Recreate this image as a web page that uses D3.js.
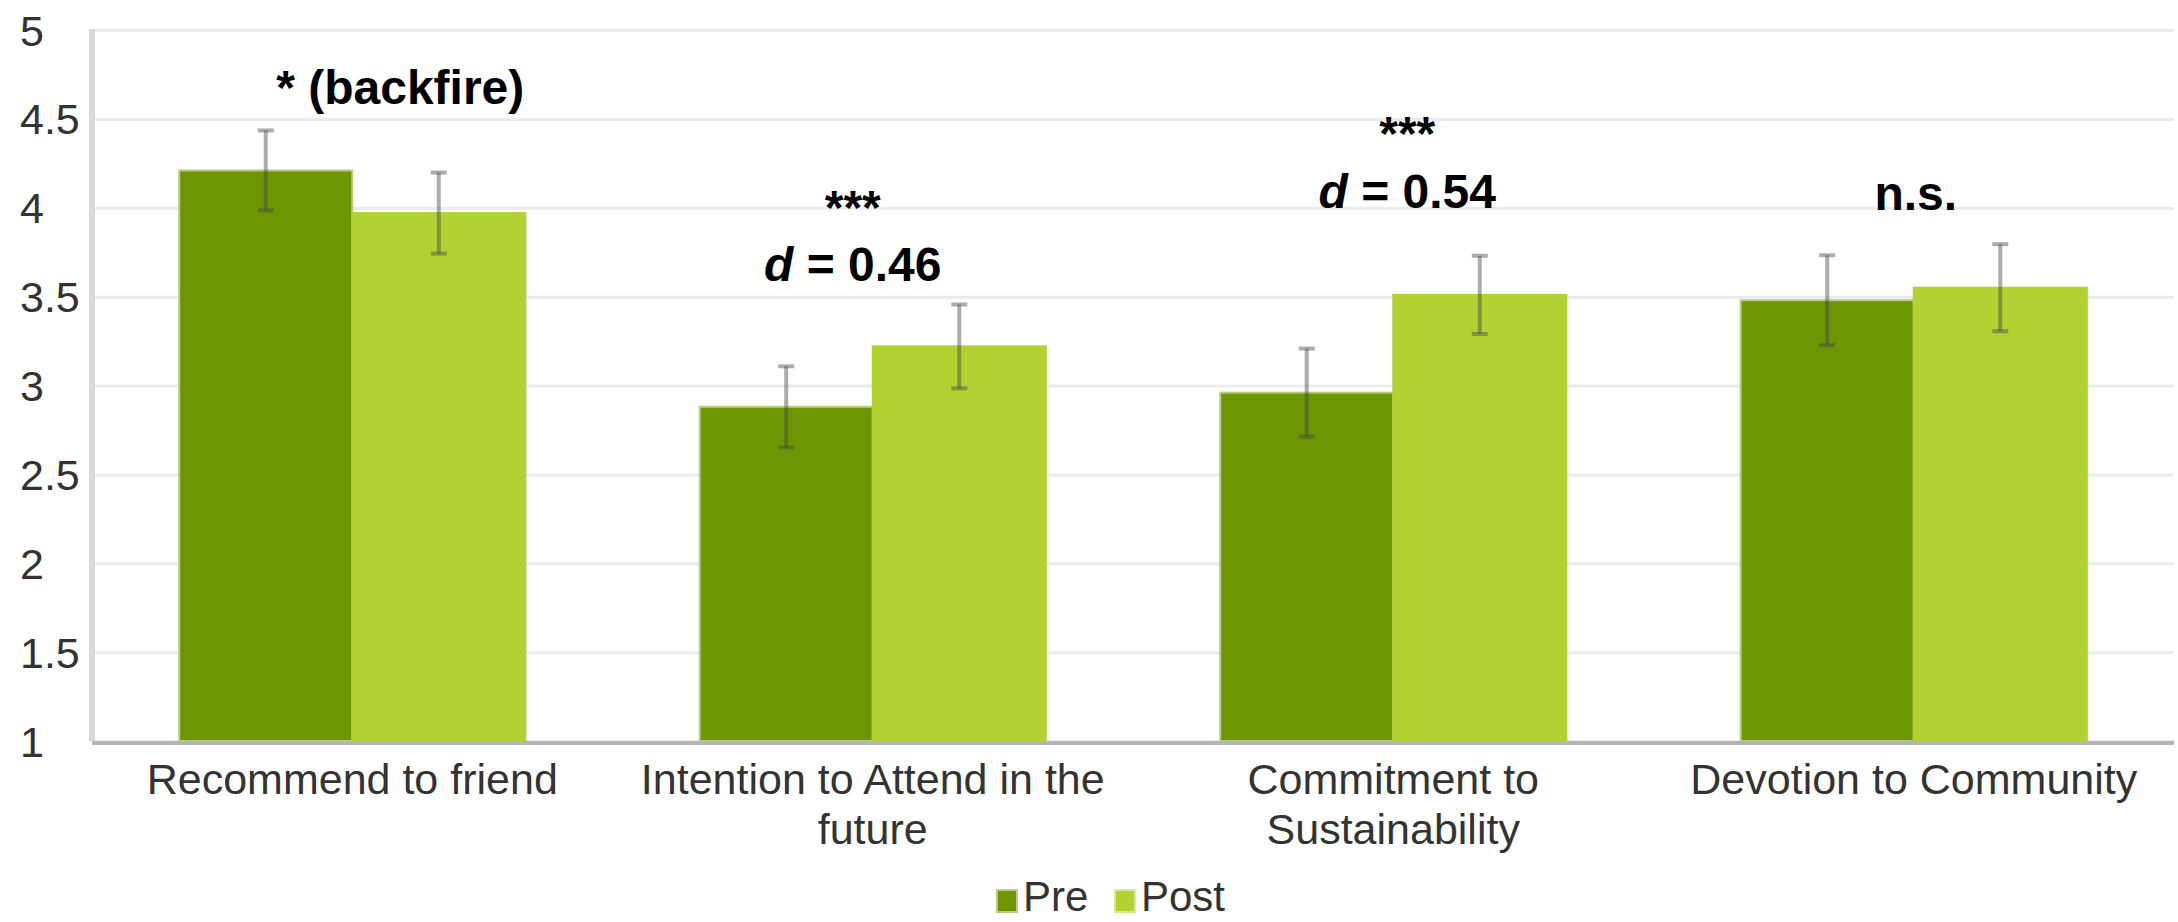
<!DOCTYPE html>
<html>
<head>
<meta charset="utf-8">
<script src="https://cdn.jsdelivr.net/npm/d3@7"></script>
<style>
  body { margin: 0; background: #fff; }
  svg { display: block; font-family: "Liberation Sans", Arial, sans-serif; }
</style>
</head>
<body>
<div id="chart"></div>
<script>
// chart values
const categories = [
    ["Recommend to friend"],
    ["Intention to Attend in the", "future"],
    ["Commitment to", "Sustainability"],
    ["Devotion to Community"]
];
const seriesNames = ["Pre", "Post"];
const preValues = [4.21, 2.88, 2.96, 3.48];
const postValues = [3.97, 3.22, 3.51, 3.55];
const preErrors = [0.225, 0.228, 0.248, 0.253];
const postErrors = [0.228, 0.236, 0.22, 0.245];
const yTicks = [1, 1.5, 2, 2.5, 3, 3.5, 4, 4.5, 5];
const sigLabels = ["* (backfire)", "***", "***", "n.s."];
const effectSizes = [null, "0.46", "0.54", null];

const width = 2178, height = 922;
const margin = {top: 30, right: 4, bottom: 181, left: 92};

const colors = {Pre: "#6e9602", Post: "#b2d232"};
const edge = {Pre: "#b9cc86", Post: "#b2d232"};

let svg = d3.select("#chart").append("svg")
    .attr("width", width)
    .attr("height", height);

let catKeys = categories.map(c => c.join(" "));

let x0 = d3.scaleBand()
    .domain(catKeys)
    .range([margin.left, width - margin.right])
    .paddingInner(0.335)
    .paddingOuter(0.1675);

let x1 = d3.scaleBand()
    .domain(seriesNames)
    .range([0, x0.bandwidth()]);

let y = d3.scaleLinear()
    .domain([1, 5])
    .range([height - margin.bottom, margin.top]);

// gridlines
svg.append("g")
    .attr("transform", "translate(" + margin.left + ",0)")
    .call(d3.axisLeft(y).tickValues(yTicks).tickSize(-(width - margin.left - margin.right)).tickFormat(""))
    .call(g => g.select(".domain").remove())
    .call(g => g.selectAll(".tick line").attr("stroke", "#ebebeb").attr("stroke-width", 3));

// y tick labels
svg.append("g")
    .attr("transform", "translate(" + margin.left + ",0)")
    .call(d3.axisLeft(y).tickValues(yTicks).tickSize(0).tickFormat(d => d))
    .call(g => g.select(".domain").remove())
    .call(g => g.selectAll(".tick text")
        .attr("x", -72)
        .attr("dy", "0.35em")
        .attr("text-anchor", "start")
        .style("font-size", "43px")
        .style("font-family", "Liberation Sans, Arial, sans-serif")
        .style("fill", "#333"));

// left axis line
svg.append("line")
    .attr("x1", margin.left).attr("x2", margin.left)
    .attr("y1", y(5) - 1).attr("y2", y(1))
    .attr("stroke", "#d9d9d9")
    .attr("stroke-width", 6);

// bars
let rows = catKeys.map((k, i) => ({
    key: k,
    bars: [
        {s: "Pre", v: preValues[i], e: preErrors[i]},
        {s: "Post", v: postValues[i], e: postErrors[i]}
    ]
}));

let groups = svg.selectAll(".grp")
    .data(rows)
    .enter()
    .append("g")
    .attr("class", "grp")
    .attr("transform", d => "translate(" + x0(d.key) + ",0)");

groups.selectAll("rect")
    .data(d => d.bars)
    .enter()
    .append("rect")
    .attr("x", d => x1(d.s))
    .attr("y", d => y(d.v))
    .attr("width", x1.bandwidth())
    .attr("height", d => y(1) - y(d.v))
    .attr("fill", d => colors[d.s])
    .attr("stroke", d => edge[d.s])
    .attr("stroke-width", 2);

// x axis line
svg.append("line")
    .attr("x1", margin.left).attr("x2", width - margin.right)
    .attr("y1", y(1) + 2).attr("y2", y(1) + 2)
    .attr("stroke", "#b4b4b4")
    .attr("stroke-width", 4);

// error bars
let errs = groups.selectAll(".err")
    .data(d => d.bars)
    .enter()
    .append("g")
    .attr("class", "err")
    .attr("stroke", "rgba(70,70,70,0.45)")
    .attr("stroke-width", 4);

errs.append("line")
    .attr("x1", d => x1(d.s) + x1.bandwidth() / 2)
    .attr("x2", d => x1(d.s) + x1.bandwidth() / 2)
    .attr("y1", d => y(d.v + d.e))
    .attr("y2", d => y(d.v - d.e));

errs.selectAll(".cap")
    .data(d => [d.v + d.e, d.v - d.e].map(v => ({s: d.s, v: v})))
    .enter()
    .append("line")
    .attr("x1", d => x1(d.s) + x1.bandwidth() / 2 - 8)
    .attr("x2", d => x1(d.s) + x1.bandwidth() / 2 + 8)
    .attr("y1", d => y(d.v))
    .attr("y2", d => y(d.v));

// category labels
groups.append("text")
    .attr("x", x0.bandwidth() / 2)
    .attr("y", y(1) + 53)
    .attr("text-anchor", "middle")
    .style("font-size", "43px")
    .style("fill", "#333")
    .selectAll("tspan")
    .data((d, i) => categories[i])
    .enter()
    .append("tspan")
    .attr("x", x0.bandwidth() / 2)
    .attr("dy", (d, i) => i === 0 ? 0 : 50)
    .text(d => d);

// significance annotations (nudged like the hand placed text boxes)
const sigPlace = [
    {dx: 48, sigY: 4.585},
    {dx: -20, sigY: 3.907, dY: 3.59},
    {dx: 14, sigY: 4.325, dY: 4.0},
    {dx: 2, sigY: 3.99}
];

catKeys.forEach((k, i) => {
    let cx = x0(k) + x0.bandwidth() / 2 + sigPlace[i].dx;
    svg.append("text")
        .attr("x", cx)
        .attr("y", y(sigPlace[i].sigY))
        .attr("text-anchor", "middle")
        .style("font-size", "48px")
        .style("font-weight", "bold")
        .style("fill", "#000")
        .text(sigLabels[i]);
    if (effectSizes[i]) {
        let t = svg.append("text")
            .attr("x", cx)
            .attr("y", y(sigPlace[i].dY))
            .attr("text-anchor", "middle")
            .style("font-size", "48px")
            .style("font-weight", "bold")
            .style("fill", "#000");
        t.append("tspan").style("font-style", "italic").text("d");
        t.append("tspan").text(" = " + effectSizes[i]);
    }
});

// legend
let legend = svg.append("g")
    .attr("transform", "translate(997," + 890 + ")");

let legendX = [0, 118];
seriesNames.forEach((s, i) => {
    let item = legend.append("g").attr("transform", "translate(" + legendX[i] + ",0)");
    item.append("rect")
        .attr("width", 20).attr("height", 22)
        .attr("fill", colors[s])
        .attr("stroke", edge[s] === colors[s] ? "#d8ea8e" : edge[s])
        .attr("stroke-width", 2);
    item.append("text")
        .attr("x", 26)
        .attr("y", 21)
        .style("font-size", "42px")
        .style("fill", "#333")
        .text(s);
});
</script>
</body>
</html>
